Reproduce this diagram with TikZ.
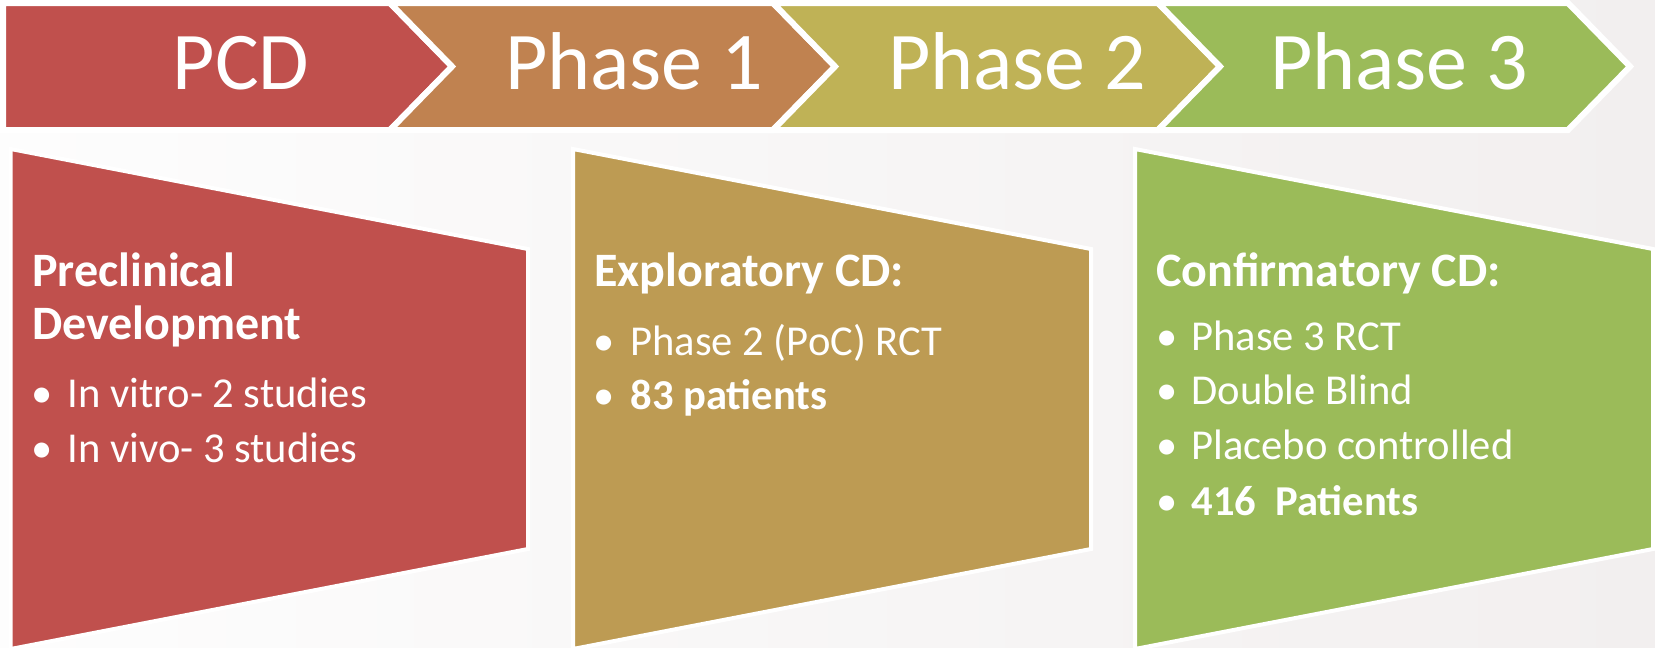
\documentclass[tikz,border=0pt]{standalone}
\usepackage{fontspec}
\setmainfont{Carlito}
\definecolor{cPCD}{HTML}{C0504D}
\definecolor{cPone}{HTML}{C08250}
\definecolor{cPtwo}{HTML}{BFB256}
\definecolor{cPthree}{HTML}{9BBB59}
\definecolor{cBtwo}{HTML}{BD9B53}
\definecolor{bgL}{HTML}{FDFDFD}
\definecolor{bgR}{HTML}{F2EFEF}
\begin{document}
\begin{tikzpicture}[x=0.5pt,y=-0.5pt,
  chev/.style={draw=white, line width=3pt, line join=miter},
  card/.style={draw=white, line width=2pt, line join=miter},
  head/.style={text=white, font=\fontsize{41}{49}\selectfont, inner sep=0pt, anchor=base},
  ttl/.style={text=white, font=\fontsize{24}{29}\selectfont\bfseries, inner sep=0pt, anchor=base west},
  itm/.style={text=white, font=\fontsize{21.3}{25}\selectfont, inner sep=0pt, anchor=base west},
  bul/.style={text=white, font=\fontsize{21.3}{25}\selectfont, inner sep=0pt, anchor=base},
]
\useasboundingbox (0,0) rectangle (1655,648);
\shade[left color=bgL, right color=bgR] (0,0) rectangle (1655,648);

% top chevrons
\filldraw[chev, fill=cPCD] (3,3) -- (390,3) -- (452,66.5) -- (390,130) -- (3,130) -- cycle;
\filldraw[chev, fill=cPone] (390,3) -- (773,3) -- (835,66.5) -- (773,130) -- (390,130) -- (452,66.5) -- cycle;
\filldraw[chev, fill=cPtwo] (773,3) -- (1158,3) -- (1220,66.5) -- (1158,130) -- (773,130) -- (835,66.5) -- cycle;
\filldraw[chev, fill=cPthree] (1158,3) -- (1568,3) -- (1630,66.5) -- (1568,130) -- (1158,130) -- (1220,66.5) -- cycle;

\node[head] (tPCD) at (241,89) {PCD};
\node[head] (tPone) at (634,89) {Phase 1};
\node[head] (tPtwo) at (1017,89) {Phase 2};
\node[head] (tPthree) at (1399,89) {Phase 3};

% cards
\filldraw[card, fill=cPCD] (10.7,149) -- (528,249) -- (528,549) -- (10.7,649) -- cycle;
\filldraw[card, fill=cBtwo] (573,149) -- (1091,249) -- (1091,549) -- (573,649) -- cycle;
\filldraw[card, fill=cPthree] (1135,149) -- (1653,249) -- (1653,549) -- (1135,649) -- cycle;

% card 1 text
\node[ttl] (tOneA) at (32,286.7) {Preclinical};
\node[ttl] (tOneB) at (32,339.3) {Development};
\node[bul] (bOneA) at (42,407.7) {•};
\node[itm] (iOneA) at (67,407.7) {In vitro- 2 studies};
\node[bul] (bOneB) at (42,462.3) {•};
\node[itm] (iOneB) at (67,462.3) {In vivo- 3 studies};

% card 2 text
\node[ttl] (tTwo) at (594,286.7) {Exploratory CD:};
\node[bul] (bTwoA) at (604,355) {•};
\node[itm] (iTwoA) at (630,355) {Phase 2 (PoC) RCT};
\node[bul] (bTwoB) at (604,409) {•};
\node[itm] (iTwoB) at (630,409) {\bfseries 83 patients};

% card 3 text
\node[ttl] (tThree) at (1156,286.7) {Confirmatory CD:};
\node[bul] (bThreeA) at (1167,350) {•};
\node[itm] (iThreeA) at (1191,350) {Phase 3 RCT};
\node[bul] (bThreeB) at (1167,404.5) {•};
\node[itm] (iThreeB) at (1191,404.5) {Double Blind};
\node[bul] (bThreeC) at (1167,459.5) {•};
\node[itm] (iThreeC) at (1191,459.5) {Placebo controlled};
\node[bul] (bThreeD) at (1167,515) {•};
\node[itm] (iThreeD) at (1191,515) {\bfseries 416~~Patients};
\end{tikzpicture}
\end{document}
